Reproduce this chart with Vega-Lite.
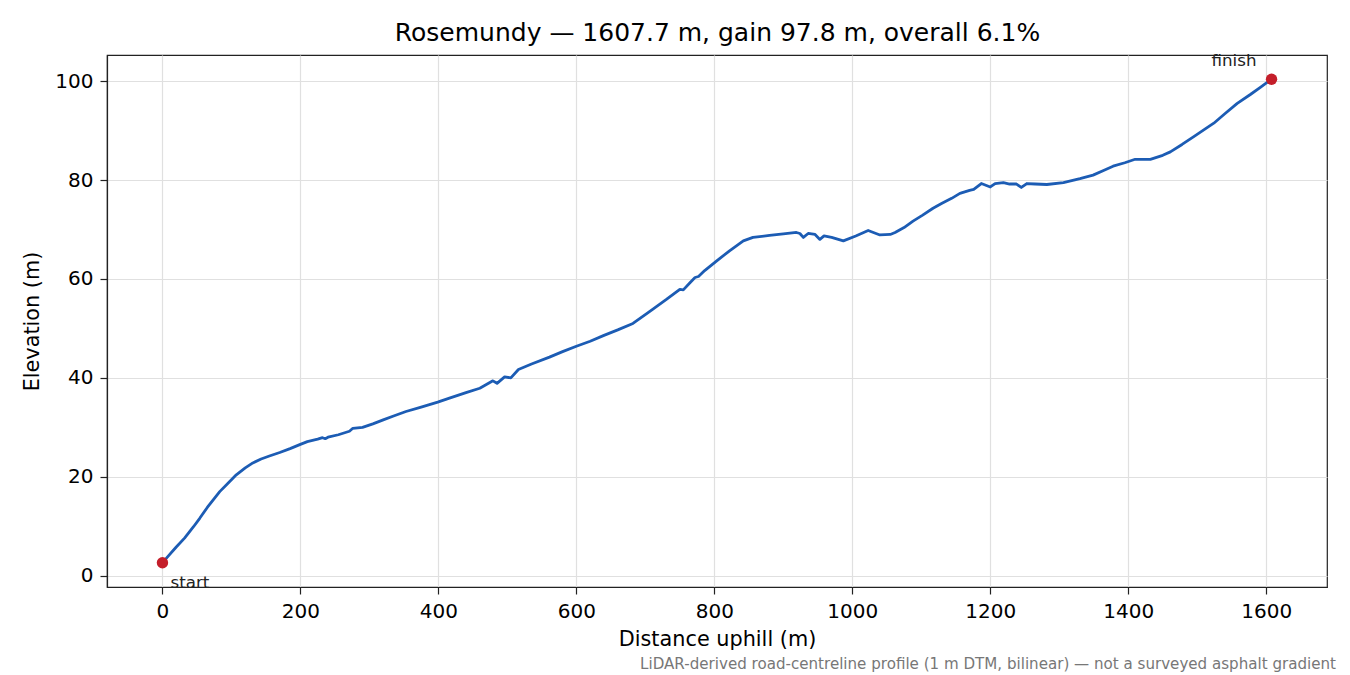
{
  "$schema": "https://vega.github.io/schema/vega-lite/v6.json",
  "width": 1220,
  "height": 532,
  "autosize": "none",
  "padding": {"left": 107, "top": 55, "right": 23, "bottom": 88},
  "background": "white",
  "config": {
    "font": "DejaVu Sans",
    "view": {"stroke": "#222222", "strokeWidth": 1.2},
    "axis": {
      "domainColor": "#222222",
      "domainWidth": 1.2,
      "tickColor": "#222222",
      "tickWidth": 1.2,
      "tickSize": 7,
      "labelFontSize": 20,
      "labelColor": "#000000",
      "labelPadding": 7,
      "titleFontSize": 20.8,
      "titleFontWeight": "normal",
      "titleColor": "#000000",
      "gridColor": "#e0e0e0",
      "gridWidth": 1.2
    }
  },
  "title": {
    "text": "LiDAR-derived road-centreline profile (1 m DTM, bilinear) — not a surveyed asphalt gradient",
    "orient": "bottom",
    "anchor": "end",
    "frame": "group",
    "fontSize": 15.1,
    "fontWeight": "normal",
    "color": "#777777",
    "offset": 8,
    "dx": 9
  },
  "datasets": {
    "profile": [
      {"d": 0, "e": 2.6}, {"d": 8, "e": 3.9}, {"d": 20, "e": 5.8}, {"d": 32, "e": 7.6},
      {"d": 45, "e": 9.9}, {"d": 54, "e": 11.6}, {"d": 65, "e": 13.8}, {"d": 75, "e": 15.6},
      {"d": 83, "e": 17.0}, {"d": 95, "e": 18.7}, {"d": 107, "e": 20.4}, {"d": 120, "e": 21.8},
      {"d": 131, "e": 22.8}, {"d": 143, "e": 23.6}, {"d": 155, "e": 24.2}, {"d": 170, "e": 24.9},
      {"d": 185, "e": 25.7}, {"d": 199, "e": 26.5}, {"d": 210, "e": 27.1}, {"d": 225, "e": 27.6},
      {"d": 232, "e": 27.9}, {"d": 236, "e": 27.7}, {"d": 240, "e": 28.0}, {"d": 255, "e": 28.5},
      {"d": 271, "e": 29.2}, {"d": 276, "e": 29.8}, {"d": 290, "e": 30.0}, {"d": 305, "e": 30.7},
      {"d": 320, "e": 31.5}, {"d": 335, "e": 32.3}, {"d": 353, "e": 33.2}, {"d": 375, "e": 34.1},
      {"d": 399, "e": 35.1}, {"d": 416, "e": 35.9}, {"d": 440, "e": 37.0}, {"d": 460, "e": 37.9},
      {"d": 479, "e": 39.4}, {"d": 485, "e": 38.9}, {"d": 496, "e": 40.2}, {"d": 505, "e": 40.0},
      {"d": 516, "e": 41.7}, {"d": 535, "e": 42.8}, {"d": 561, "e": 44.2}, {"d": 580, "e": 45.3},
      {"d": 600, "e": 46.4}, {"d": 620, "e": 47.4}, {"d": 640, "e": 48.6}, {"d": 660, "e": 49.7},
      {"d": 682, "e": 51.0}, {"d": 706, "e": 53.4}, {"d": 730, "e": 55.8}, {"d": 750, "e": 57.9},
      {"d": 755, "e": 57.8}, {"d": 765, "e": 59.3}, {"d": 772, "e": 60.3}, {"d": 777, "e": 60.5},
      {"d": 786, "e": 61.7}, {"d": 803, "e": 63.6}, {"d": 822, "e": 65.7}, {"d": 842, "e": 67.7},
      {"d": 856, "e": 68.4}, {"d": 880, "e": 68.8}, {"d": 900, "e": 69.1}, {"d": 919, "e": 69.4},
      {"d": 924, "e": 69.2}, {"d": 929, "e": 68.4}, {"d": 936, "e": 69.2}, {"d": 946, "e": 69.0},
      {"d": 953, "e": 68.0}, {"d": 959, "e": 68.7}, {"d": 970, "e": 68.4}, {"d": 987, "e": 67.7},
      {"d": 1005, "e": 68.7}, {"d": 1023, "e": 69.8}, {"d": 1040, "e": 68.9}, {"d": 1055, "e": 69.0},
      {"d": 1062, "e": 69.4}, {"d": 1075, "e": 70.4}, {"d": 1088, "e": 71.7}, {"d": 1102, "e": 72.9},
      {"d": 1117, "e": 74.3}, {"d": 1130, "e": 75.3}, {"d": 1144, "e": 76.3}, {"d": 1156, "e": 77.3},
      {"d": 1170, "e": 77.9}, {"d": 1176, "e": 78.1}, {"d": 1187, "e": 79.3}, {"d": 1200, "e": 78.6},
      {"d": 1207, "e": 79.3}, {"d": 1219, "e": 79.5}, {"d": 1228, "e": 79.2}, {"d": 1238, "e": 79.2},
      {"d": 1245, "e": 78.5}, {"d": 1253, "e": 79.3}, {"d": 1265, "e": 79.2}, {"d": 1282, "e": 79.1},
      {"d": 1306, "e": 79.5}, {"d": 1330, "e": 80.3}, {"d": 1349, "e": 81.0}, {"d": 1365, "e": 82.0},
      {"d": 1378, "e": 82.8}, {"d": 1395, "e": 83.5}, {"d": 1410, "e": 84.2}, {"d": 1432, "e": 84.2},
      {"d": 1450, "e": 85.0}, {"d": 1461, "e": 85.7}, {"d": 1478, "e": 87.2}, {"d": 1495, "e": 88.8},
      {"d": 1510, "e": 90.2}, {"d": 1524, "e": 91.5}, {"d": 1540, "e": 93.4}, {"d": 1558, "e": 95.5},
      {"d": 1577, "e": 97.3}, {"d": 1592, "e": 98.8}, {"d": 1607.7, "e": 100.4}
    ],
    "ends": [
      {"d": 0, "e": 2.6, "label": "start"},
      {"d": 1607.7, "e": 100.4, "label": "finish"}
    ]
  },
  "layer": [
    {
      "data": {"name": "profile"},
      "mark": {"type": "line", "color": "#1c5cb4", "strokeWidth": 2.8, "strokeJoin": "round", "strokeCap": "round"},
      "encoding": {
        "x": {"field": "d", "type": "quantitative",
              "scale": {"domain": [-80.4, 1688.1], "nice": false, "zero": false},
              "axis": {"title": "Distance uphill (m)", "format": "d", "values": [0, 200, 400, 600, 800, 1000, 1200, 1400, 1600], "titlePadding": 8}},
        "y": {"field": "e", "type": "quantitative",
              "scale": {"domain": [-2.29, 105.29], "nice": false, "zero": false},
              "axis": {"title": "Elevation (m)", "format": "d", "values": [0, 20, 40, 60, 80, 100], "titlePadding": 12}}
      }
    },
    {
      "data": {"name": "ends"},
      "mark": {"type": "point", "filled": true, "color": "#c41e2a", "size": 130, "opacity": 1},
      "encoding": {
        "x": {"field": "d", "type": "quantitative",
              "axis": {"orient": "top", "title": "Rosemundy — 1607.7 m, gain 97.8 m, overall 6.1%", "labels": false, "ticks": false, "domain": false, "grid": false, "titleFontSize": 25, "titlePadding": 10}},
        "y": {"field": "e", "type": "quantitative", "axis": {"title": "Elevation (m)", "format": "d", "values": [0, 20, 40, 60, 80, 100], "titlePadding": 12}}
      }
    },
    {
      "data": {"name": "ends"},
      "transform": [{"filter": "datum.label === 'start'"}],
      "mark": {"type": "text", "align": "left", "baseline": "alphabetic", "dx": 8, "dy": 25, "fontSize": 16.7, "color": "#222222"},
      "encoding": {
        "x": {"field": "d", "type": "quantitative", "axis": null},
        "y": {"field": "e", "type": "quantitative", "axis": {"title": "Elevation (m)", "format": "d", "values": [0, 20, 40, 60, 80, 100], "titlePadding": 12}},
        "text": {"field": "label"}
      }
    },
    {
      "data": {"name": "ends"},
      "transform": [{"filter": "datum.label === 'finish'"}],
      "mark": {"type": "text", "align": "right", "baseline": "alphabetic", "dx": -15, "dy": -13, "fontSize": 16.7, "color": "#222222"},
      "encoding": {
        "x": {"field": "d", "type": "quantitative", "axis": null},
        "y": {"field": "e", "type": "quantitative", "axis": {"title": "Elevation (m)", "format": "d", "values": [0, 20, 40, 60, 80, 100], "titlePadding": 12}},
        "text": {"field": "label"}
      }
    }
  ],
  "resolve": {"axis": {"x": "independent"}}
}
